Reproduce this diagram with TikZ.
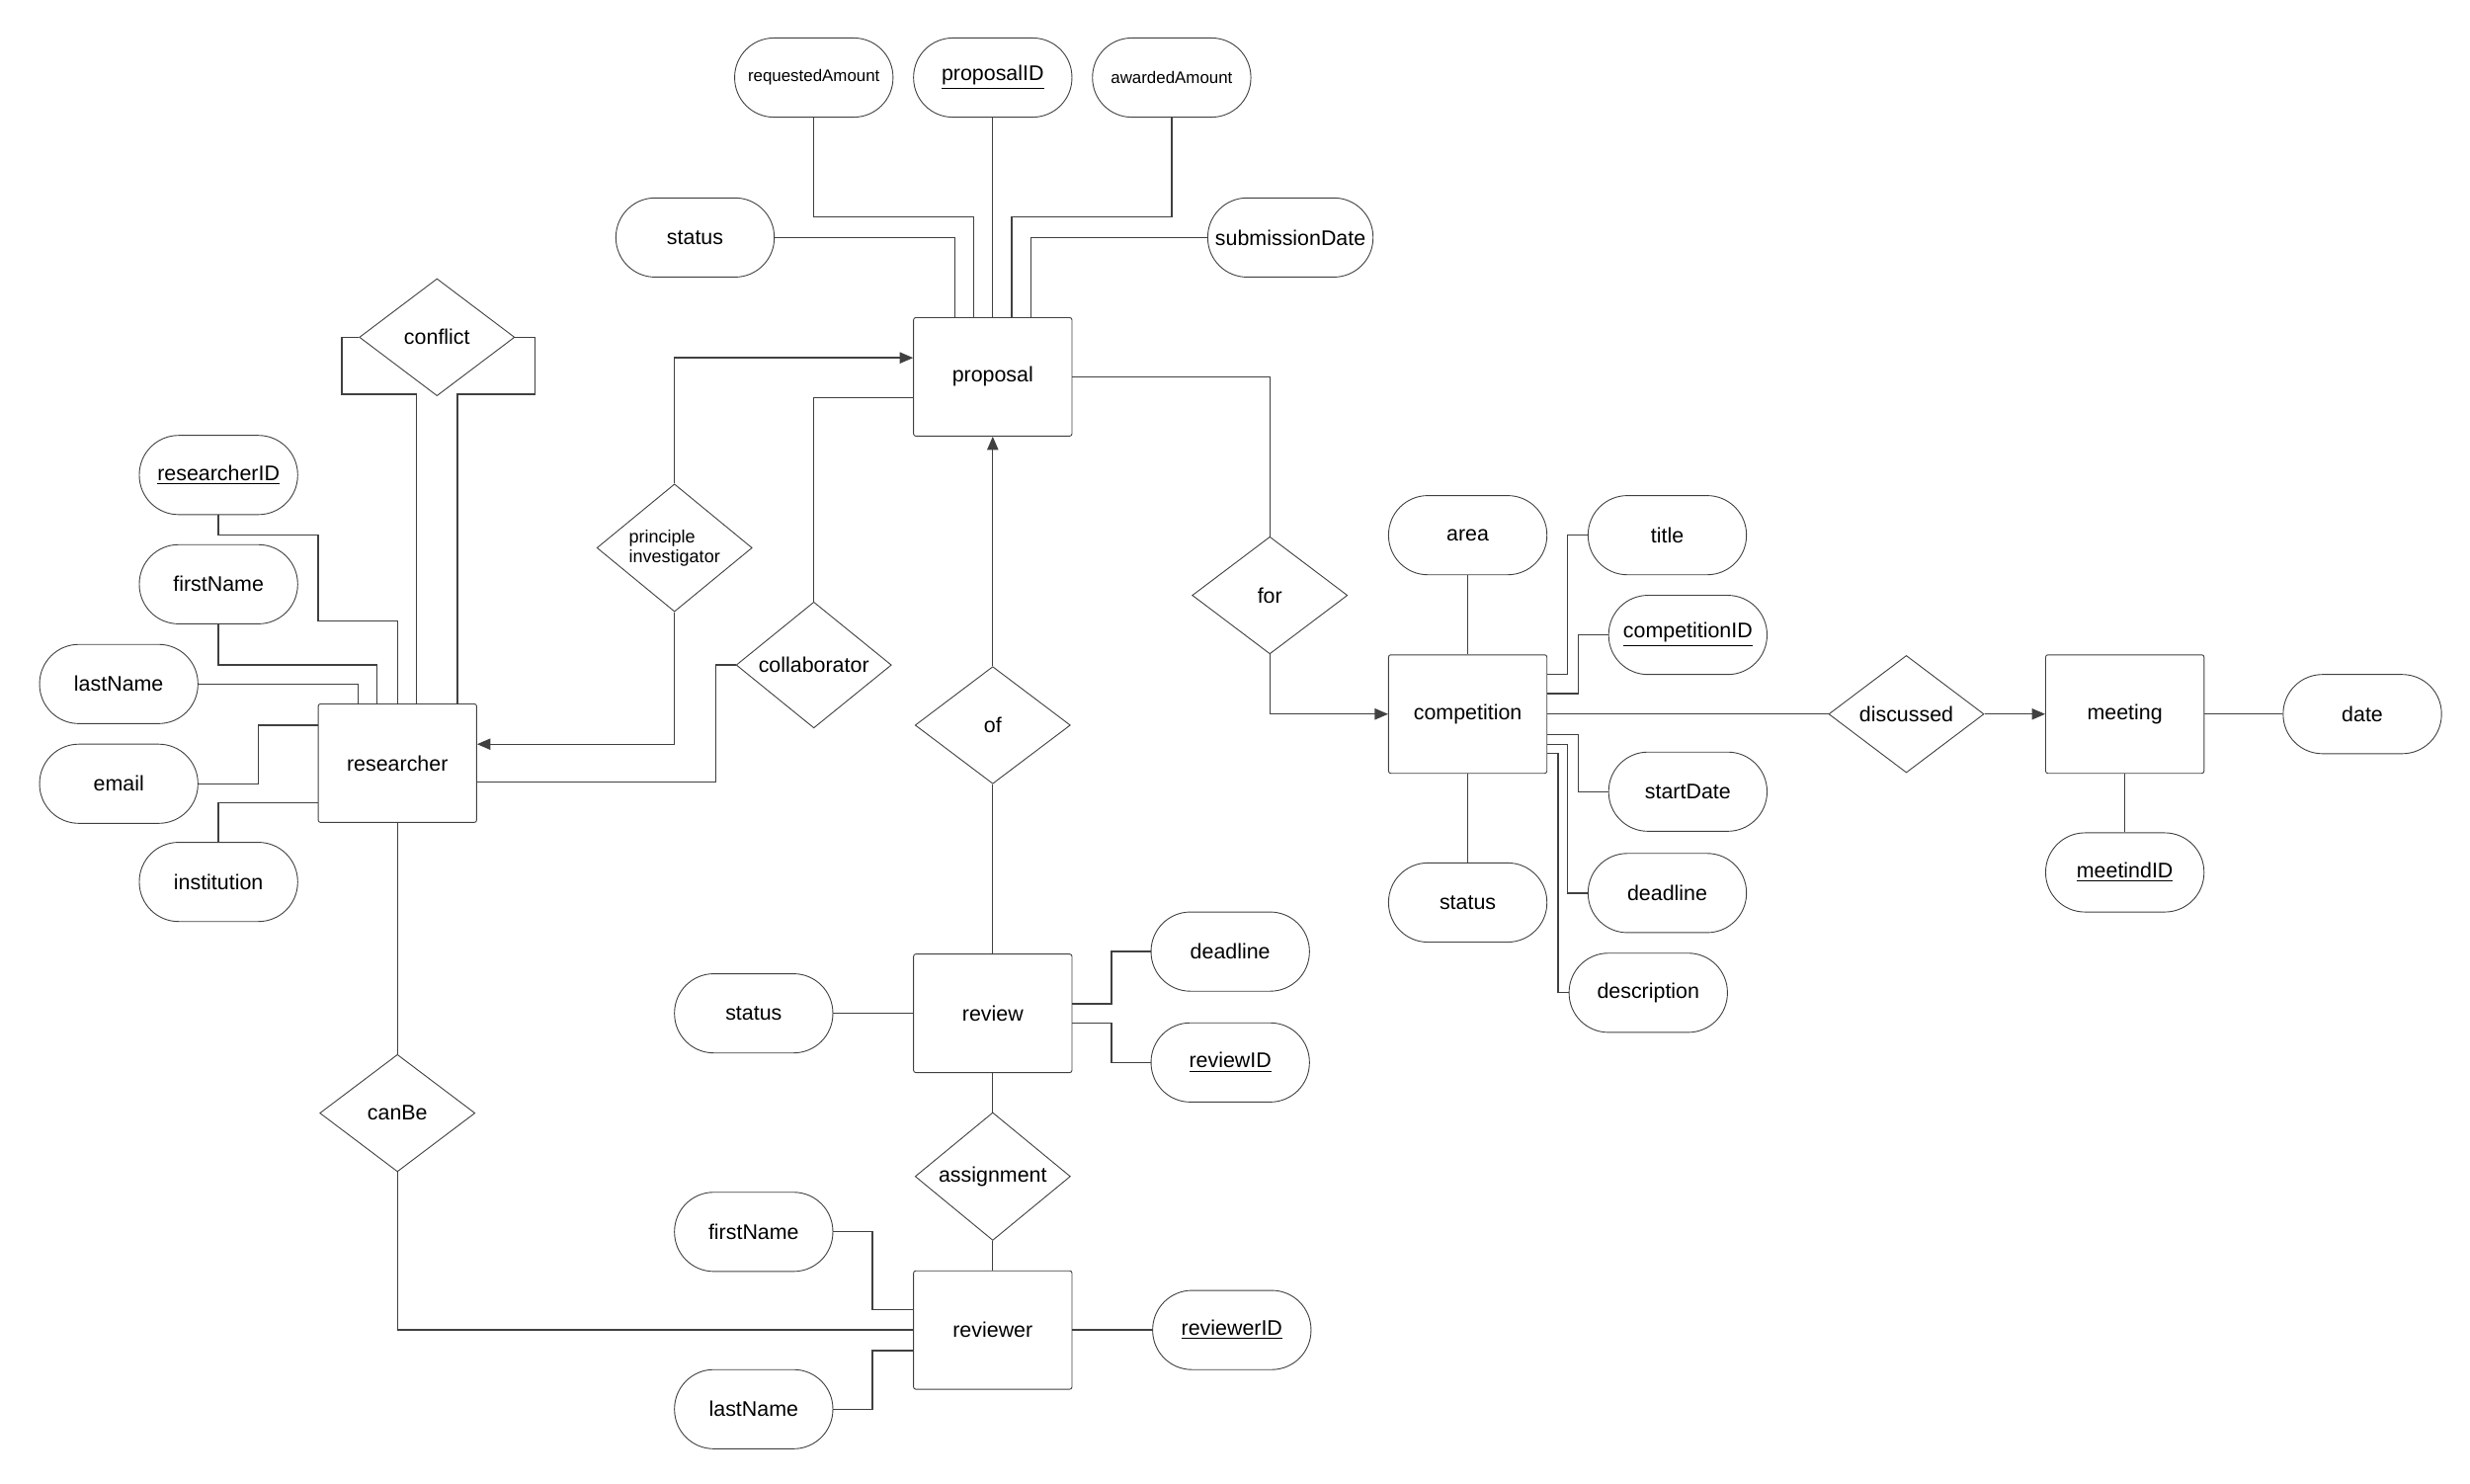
\documentclass[tikz,border=0pt]{standalone}
\usepackage{fontspec}
\setmainfont{Liberation Sans}
\usetikzlibrary{shapes.geometric,arrows.meta}
\tikzset{
  ent/.style  = {draw=black!75, rounded corners=1pt, minimum width=2.5cm,
                 minimum height=1.87cm, font=\fontsize{9.5}{11}\selectfont},
  attr/.style = {draw=black!75, rounded corners=0.62cm, minimum width=2.5cm,
                 minimum height=1.25cm, font=\fontsize{9.5}{11}\selectfont},
  rel/.style  = {draw=black!75, diamond, inner sep=0pt, minimum width=2.45cm,
                 minimum height=1.85cm, font=\fontsize{9.5}{11}\selectfont},
  ln/.style   = {draw=black!75, line width=0.6pt},
  arr/.style  = {ln, -{Triangle[length=6pt,width=5pt]}}
}
\newcommand{\key}[1]{\underline{#1}}

\begin{document}
\begin{tikzpicture}[x=0.025cm, y=-0.025cm]
	\useasboundingbox (0,0) rectangle (1560,937);

	% Entities
	\node[ent] (prop) at (627,238) {proposal};
	\node[ent] (res)  at (251,482) {researcher};
	\node[ent] (comp) at (927,451) {competition};
	\node[ent] (meet) at (1342,451) {meeting};
	\node[ent] (rev)  at (627,640) {review};
	\node[ent] (rvr)  at (627,840) {reviewer};

	% Relationships
	\node[rel] (conf) at (276,213) {conflict};
	\node[rel, font=\fontsize{8}{9}\selectfont, align=left] (pi) at (426,346) {principle\\ investigator};
	\node[rel] (coll) at (514,420) {collaborator};
	\node[rel] (for)  at (802,376) {for};
	\node[rel] (of)   at (627,458) {of};
	\node[rel] (disc) at (1204,451) {discussed};
	\node[rel] (canb) at (251,703) {canBe};
	\node[rel] (asg)  at (627,743) {assignment};

	% Attributes of proposal
	\node[attr, font=\fontsize{7.5}{9}\selectfont] (reqA) at (514,49) {requestedAmount};
	\node[attr] (pid)  at (627,49) {\key{proposalID}};
	\node[attr, font=\fontsize{7.5}{9}\selectfont] (awdA) at (740,49) {awardedAmount};
	\node[attr] (pst)  at (439,150) {status};
	\node[attr] (sub)  at (815,150) {submissionDate};

	% Attributes of researcher
	\node[attr] (rid)  at (138,300) {\key{researcherID}};
	\node[attr] (rfn)  at (138,369) {firstName};
	\node[attr] (rln)  at (75,432) {lastName};
	\node[attr] (rem)  at (75,495) {email};
	\node[attr] (rin)  at (138,557) {institution};

	% Attributes of competition
	\node[attr] (area) at (927,338) {area};
	\node[attr] (ttl)  at (1053,338) {title};
	\node[attr] (cid)  at (1066,401) {\key{competitionID}};
	\node[attr] (std)  at (1066,500) {startDate};
	\node[attr] (cdl)  at (1053,564) {deadline};
	\node[attr] (dsc)  at (1041,627) {description};
	\node[attr] (cst)  at (927,570) {status};

	% Attributes of meeting
	\node[attr] (date) at (1492,451) {date};
	\node[attr] (mid)  at (1342,551) {\key{meetindID}};

	% Attributes of review
	\node[attr] (vst)  at (476,640) {status};
	\node[attr] (vdl)  at (777,601) {deadline};
	\node[attr] (vid)  at (777,671) {\key{reviewID}};

	% Attributes of reviewer
	\node[attr] (wfn)  at (476,778) {firstName};
	\node[attr] (wln)  at (476,890) {lastName};
	\node[attr] (wid)  at (778,840) {\key{reviewerID}};

	% proposal connectors
	\draw[ln] (pst.east) -| (603,201 |- prop.north);
	\draw[ln] (reqA.south) |- (615,137) -- (615,137 |- prop.north);
	\draw[ln] (pid.south) -- (prop.north);
	\draw[ln] (awdA.south) |- (639,137) -- (639,137 |- prop.north);
	\draw[ln] (sub.west) -| (651,201 |- prop.north);

	% conflict
	\draw[ln] (conf.west) -- (216,213) |- (263,249) -- (263,249 |- res.north);
	\draw[ln] (conf.east) -- (338,213) |- (289,249) -- (289,249 |- res.north);

	% researcher connectors
	\draw[ln] (rid.south) |- (201,338) |- (251,392) -- (res.north);
	\draw[ln] (rfn.south) |- (238,420) -- (238,420 |- res.north);
	\draw[ln] (rln.east) -| (226,432 |- res.north);
	\draw[ln] (rem.east) -- (163,495) |- (201,458 -| res.west);
	\draw[ln] (rin.north) |- (201,507 -| res.west);

	% researcher - proposal
	\draw[arr] (pi.north) |- (577,226 -| prop.west);
	\draw[arr] (pi.south) |- (301,470 -| res.east);
	\draw[ln] (coll.north) |- (577,251 -| prop.west);
	\draw[ln] (coll.west) -- (452,420) |- (301,494 -| res.east);

	% proposal - competition
	\draw[ln] (prop.east) -| (for.north);
	\draw[arr] (for.south) |- (comp.west);
	\draw[arr] (of.north) -- (prop.south);
	\draw[ln] (of.south) -- (rev.north);

	% competition connectors
	\draw[ln] (area.south) -- (comp.north);
	\draw[ln] (cst.north) -- (comp.south);
	\draw[ln] (ttl.west) -- (990,338) |- (977,426 -| comp.east);
	\draw[ln] (cid.west) -- (997,401) |- (977,438 -| comp.east);
	\draw[ln] (std.west) -- (997,500) |- (977,464 -| comp.east);
	\draw[ln] (cdl.west) -- (990,564) |- (977,470 -| comp.east);
	\draw[ln] (dsc.west) -- (984,627) |- (977,476 -| comp.east);

	% competition - meeting
	\draw[ln] (comp.east) -- (disc.west);
	\draw[arr] (disc.east) -- (meet.west);
	\draw[ln] (meet.east) -- (date.west);
	\draw[ln] (meet.south) -- (mid.north);

	% review connectors
	\draw[ln] (vst.east) -- (rev.west);
	\draw[ln] (vdl.west) -- (702,601) |- (677,634 -| rev.east);
	\draw[ln] (vid.west) -- (702,671) |- (677,646 -| rev.east);
	\draw[ln] (rev.south) -- (asg.north);
	\draw[ln] (asg.south) -- (rvr.north);

	% reviewer connectors
	\draw[ln] (wfn.east) -- (551,778) |- (577,827 -| rvr.west);
	\draw[ln] (wln.east) -- (551,890) |- (577,853 -| rvr.west);
	\draw[ln] (rvr.east) -- (wid.west);
	\draw[ln] (res.south) -- (canb.north);
	\draw[ln] (canb.south) |- (rvr.west);
\end{tikzpicture}
\end{document}
